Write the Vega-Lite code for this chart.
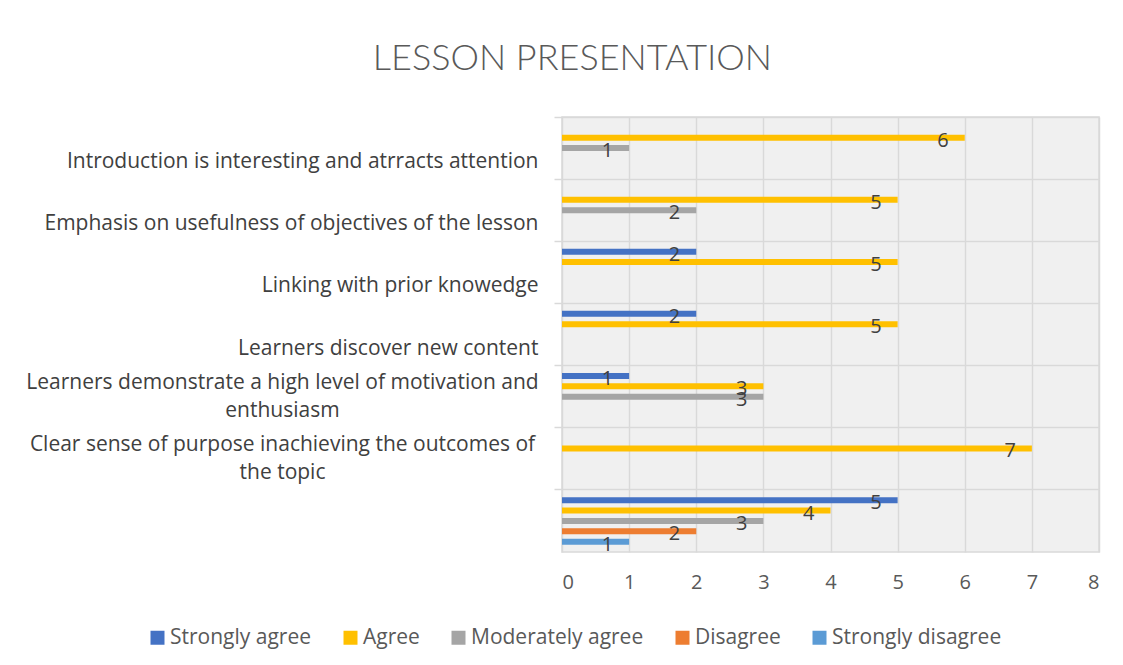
{
  "$schema": "https://vega.github.io/schema/vega-lite/v6.json",
  "autosize": {"type": "none"},
  "width": 537,
  "height": 435,
  "padding": {"left": 562, "top": 117, "right": 24, "bottom": 113},
  "background": "white",
  "title": {
    "text": "LESSON PRESENTATION",
    "anchor": "middle",
    "frame": "bounds",
    "dx": 10,
    "offset": 38,
    "font": "Lato",
    "fontSize": 36,
    "fontWeight": 300,
    "color": "#595959"
  },
  "data": {
    "values": [
      {"item": "Introduction is interesting and atrracts attention", "series": "Agree", "value": 6},
      {"item": "Introduction is interesting and atrracts attention", "series": "Moderately agree", "value": 1},
      {"item": "Emphasis on usefulness of objectives of the lesson", "series": "Agree", "value": 5},
      {"item": "Emphasis on usefulness of objectives of the lesson", "series": "Moderately agree", "value": 2},
      {"item": "Linking with prior knowedge", "series": "Strongly agree", "value": 2},
      {"item": "Linking with prior knowedge", "series": "Agree", "value": 5},
      {"item": "Learners discover new content", "series": "Strongly agree", "value": 2},
      {"item": "Learners discover new content", "series": "Agree", "value": 5},
      {"item": "Learners demonstrate a high level of motivation and enthusiasm", "series": "Strongly agree", "value": 1},
      {"item": "Learners demonstrate a high level of motivation and enthusiasm", "series": "Agree", "value": 3},
      {"item": "Learners demonstrate a high level of motivation and enthusiasm", "series": "Moderately agree", "value": 3},
      {"item": "Clear sense of purpose inachieving the outcomes of the topic", "series": "Agree", "value": 7},
      {"item": " ", "series": "Strongly agree", "value": 5},
      {"item": " ", "series": "Agree", "value": 4},
      {"item": " ", "series": "Moderately agree", "value": 3},
      {"item": " ", "series": "Disagree", "value": 2},
      {"item": " ", "series": "Strongly disagree", "value": 1}
    ]
  },
  "encoding": {
    "y": {
      "field": "item",
      "type": "nominal",
      "sort": [
        "Introduction is interesting and atrracts attention",
        "Emphasis on usefulness of objectives of the lesson",
        "Linking with prior knowedge",
        "Learners discover new content",
        "Learners demonstrate a high level of motivation and enthusiasm",
        "Clear sense of purpose inachieving the outcomes of the topic",
        " "
      ],
      "scale": {"paddingInner": 0, "paddingOuter": 0},
      "axis": {
        "title": null,
        "domain": false,
        "bandPosition": 0,
        "ticks": true,
        "tickSize": 8,
        "tickColor": "#d9d9d9",
        "tickWidth": 1.5,
        "grid": true,
        "gridColor": "#d9d9d9",
        "gridWidth": 1.5,
        "labelFont": "Open Sans",
        "labelFontSize": 21,
        "labelColor": "#404040",
        "labelLimit": 700,
        "labelLineHeight": 28,
        "labelOffset": -14,
        "labelBaseline": "middle",
        "labelExpr": "datum.value == 'Learners demonstrate a high level of motivation and enthusiasm' ? ['Learners demonstrate a high level of motivation and', 'enthusiasm'] : datum.value == 'Clear sense of purpose inachieving the outcomes of the topic' ? ['Clear sense of purpose inachieving the outcomes of', 'the topic'] : ['', datum.value]",
        "labelAlign": {"condition": {"test": "datum.value == 'Learners demonstrate a high level of motivation and enthusiasm' || datum.value == 'Clear sense of purpose inachieving the outcomes of the topic'", "value": "center"}, "value": "right"},
        "labelPadding": {"condition": {"test": "datum.value == 'Learners demonstrate a high level of motivation and enthusiasm' || datum.value == 'Clear sense of purpose inachieving the outcomes of the topic'", "value": 272}, "value": 16}
      }
    },
    "yOffset": {
      "field": "series",
      "type": "nominal",
      "scale": {"domain": ["Strongly agree", "Agree", "Moderately agree", "Disagree", "Strongly disagree"], "paddingInner": 0.42, "paddingOuter": 0.71}
    },
    "x": {
      "field": "value",
      "type": "quantitative",
      "scale": {"domain": [0, 8], "nice": false},
      "axis": {
        "title": null,
        "values": [0, 1, 2, 3, 4, 5, 6, 7, 8],
        "domain": false,
        "ticks": false,
        "grid": true,
        "gridColor": "#d9d9d9",
        "gridWidth": 1.5,
        "labelFont": "Open Sans",
        "labelFontSize": 20,
        "labelColor": "#595959",
        "labelPadding": 20,
        "labelBaseline": "top"
      }
    }
  },
  "layer": [
    {
      "mark": {"type": "bar"},
      "encoding": {
        "color": {
          "field": "series",
          "type": "nominal",
          "scale": {
            "domain": ["Strongly agree", "Agree", "Moderately agree", "Disagree", "Strongly disagree"],
            "range": ["#4472C4", "#FFC000", "#A5A5A5", "#ED7D31", "#5B9BD5"]
          },
          "legend": {
            "title": null,
            "orient": "none",
            "direction": "horizontal",
            "legendX": -415,
            "legendY": 510,
            "symbolType": "square",
            "symbolSize": 196,
            "symbolStrokeWidth": 0,
            "labelFont": "Open Sans",
            "labelFontSize": 21,
            "labelColor": "#595959",
            "labelLimit": 400,
            "labelOffset": 2,
            "columnPadding": 28
          }
        }
      }
    },
    {
      "mark": {"type": "text", "align": "right", "baseline": "middle", "dx": -16, "dy": 3, "font": "Open Sans", "fontSize": 20, "color": "#404040"},
      "encoding": {
        "text": {"field": "value", "type": "quantitative"}
      }
    }
  ],
  "config": {
    "view": {"fill": "#f0f0f0", "stroke": "#d9d9d9", "strokeWidth": 1.5}
  }
}
